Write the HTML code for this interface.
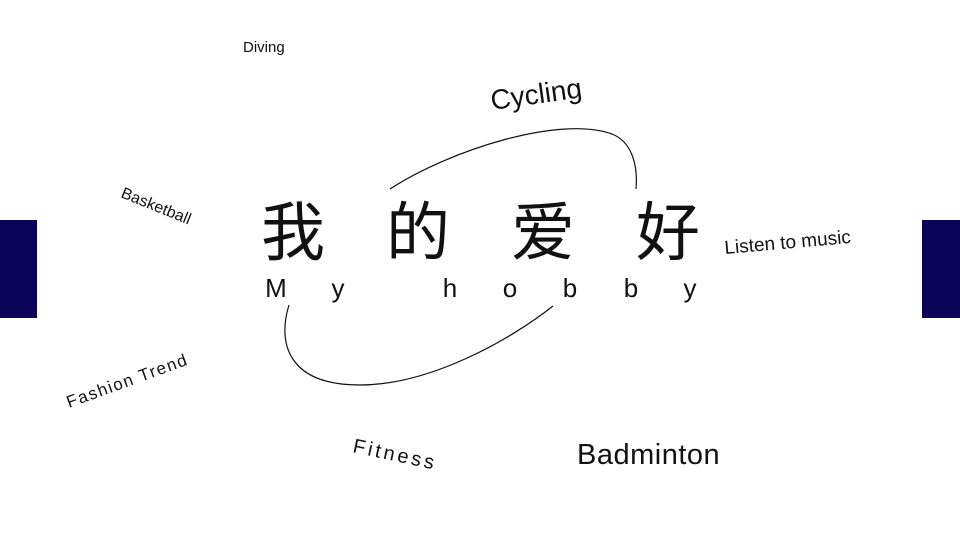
<!DOCTYPE html>
<html><head><meta charset="utf-8"><style>
body{margin:0;width:960px;height:540px;background:#fff;position:relative;overflow:hidden;font-family:"Liberation Sans","Noto Sans CJK SC",sans-serif;color:#111}
.a{position:absolute;white-space:nowrap}
.bar{position:absolute;background:#0c0459;top:220px;height:98px}
</style></head><body>
<div class="bar" style="left:0;width:37px"></div>
<div class="bar" style="left:922px;width:38px"></div>
<svg class="a" style="left:0;top:0" width="960" height="540">
<path d="M390,189 C450,150 560,115 612,134 C632,142 638,165 636,189" fill="none" stroke="#111" stroke-width="1.2"/>
<path d="M289,305 C278,340 285,385 360,385 C430,385 510,340 553,306" fill="none" stroke="#111" stroke-width="1.2"/>
<g font-family="Liberation Sans, Noto Sans CJK SC, sans-serif" fill="#111">
<g font-size="64" font-family="Noto Sans CJK SC, sans-serif" text-anchor="middle">
<text x="293" y="255">我</text><text x="418" y="255">的</text><text x="543" y="255">爱</text><text x="668" y="255">好</text>
</g>
<g font-size="26" text-anchor="middle">
<text x="276" y="297">M</text><text x="338" y="297">y</text><text x="450" y="297">h</text><text x="510" y="297">o</text><text x="570" y="297">b</text><text x="631" y="297">b</text><text x="690" y="297">y</text>
</g>
<text x="243" y="52" font-size="15">Diving</text>
<text x="492" y="110" font-size="28" transform="rotate(-8 492 110)">Cycling</text>
<text x="120" y="197" font-size="16" transform="rotate(22 120 197)">Basketball</text>
<text x="725" y="254" font-size="19" transform="rotate(-5 725 254)">Listen to music</text>
<text x="69" y="408" font-size="17" letter-spacing="1.5" transform="rotate(-20 69 408)">Fashion Trend</text>
<text x="352" y="452" font-size="20" letter-spacing="3" transform="rotate(12 352 452)">Fitness</text>
<text x="577" y="464" font-size="29" letter-spacing="0.5">Badminton</text>
</g>
</svg>
</body></html>
